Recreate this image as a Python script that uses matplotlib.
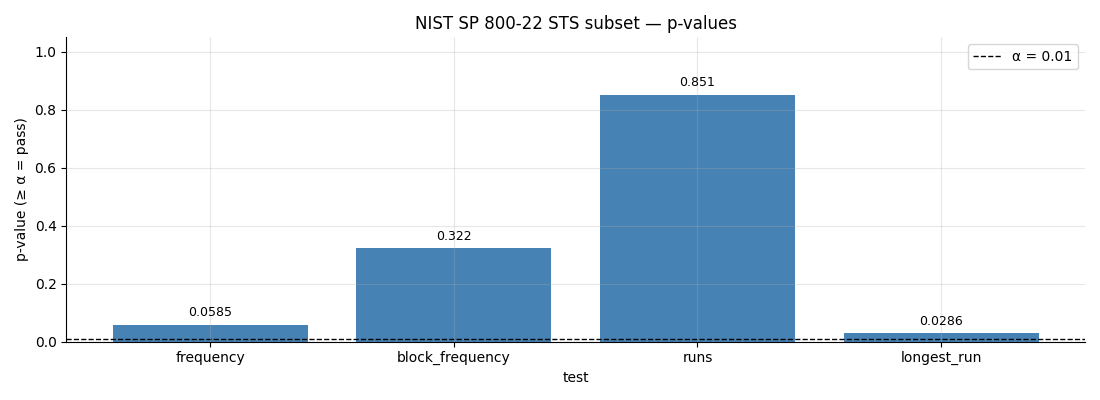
import matplotlib
matplotlib.use("Agg")
import matplotlib.pyplot as plt

tests = ["frequency", "block_frequency", "runs", "longest_run"]
pvalues = [0.0585, 0.322, 0.851, 0.0286]
labels = ["0.0585", "0.322", "0.851", "0.0286"]
alpha_level = 0.01

fig, ax = plt.subplots(figsize=(11, 4), dpi=100)
bars = ax.bar(tests, pvalues, color="steelblue", width=0.8)
ax.axhline(alpha_level, color="black", linestyle="--", linewidth=1, label=f"α = {alpha_level}")
for b, lab in zip(bars, labels):
    ax.annotate(lab, (b.get_x() + b.get_width() / 2, b.get_height()),
                xytext=(0, 4), textcoords="offset points",
                ha="center", va="bottom", fontsize=9)
ax.set_ylim(0, 1.05)
ax.set_xlabel("test")
ax.set_ylabel("p-value (≥ α = pass)")
ax.set_title("NIST SP 800-22 STS subset — p-values")
ax.set_axisbelow(False)
ax.grid(True, alpha=0.3)
ax.spines["top"].set_visible(False)
ax.spines["right"].set_visible(False)
ax.legend(loc="upper right")
fig.tight_layout()
fig.savefig("out.png", dpi=100)
